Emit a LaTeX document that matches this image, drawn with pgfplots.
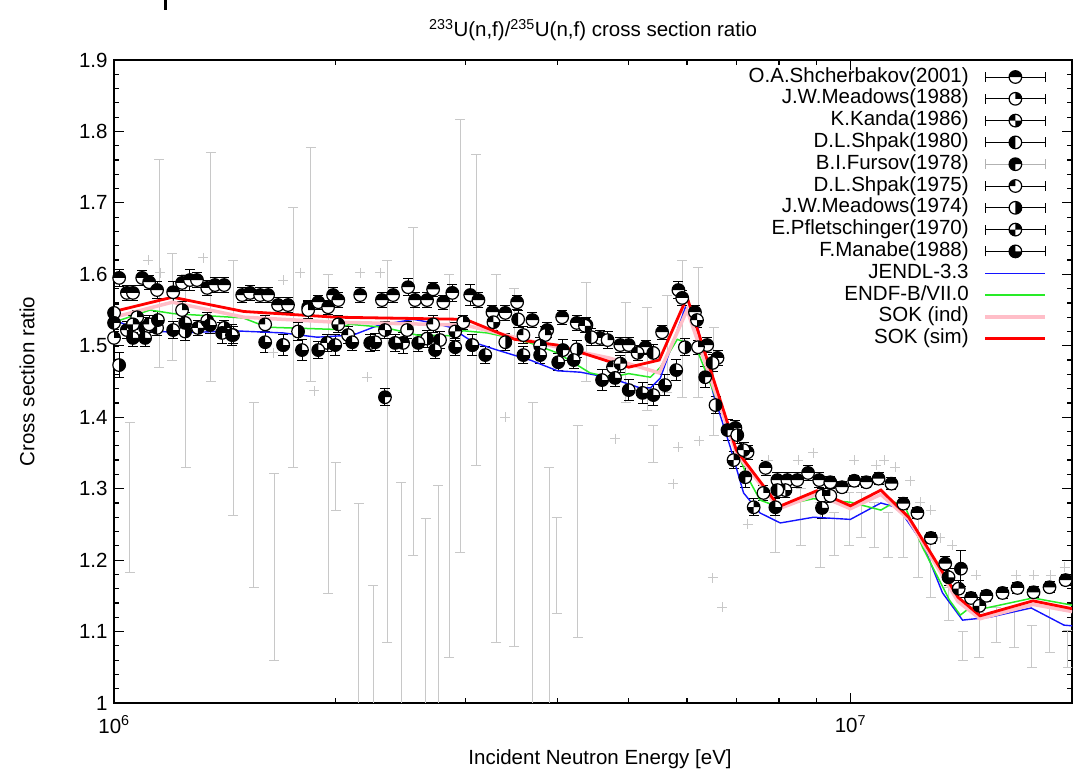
\documentclass[border=0pt]{standalone}
\usepackage{fontspec}
\setmainfont{Liberation Sans}
\usepackage{pgfplots}
\pgfplotsset{compat=1.18}

% circle markers with black sectors (gnuplot-like partially filled circles)
\newcommand\mksector[2]{%
  \pgfpathmoveto{\pgfpointorigin}%
  \pgfpathlineto{\pgfpointpolar{#1}{\pgfplotmarksize}}%
  \pgfpatharc{#1}{#2}{\pgfplotmarksize}%
  \pgfpathclose}
\newcommand\mkdisc[1]{%
  \pgfpathcircle{\pgfpointorigin}{\pgfplotmarksize}%
  \pgfsetfillcolor{white}\pgfusepathqfill
  #1\pgfsetfillcolor{black}\pgfusepathqfill
  \pgfpathcircle{\pgfpointorigin}{\pgfplotmarksize}%
  \pgfusepathqstroke}
\pgfdeclareplotmark{half-top}{\mkdisc{\mksector{0}{180}}}
\pgfdeclareplotmark{quarter-tr}{\mkdisc{\mksector{0}{90}}}
\pgfdeclareplotmark{checker-a}{\mkdisc{\mksector{90}{180}\mksector{270}{360}}}
\pgfdeclareplotmark{half-left}{\mkdisc{\mksector{90}{270}}}
\pgfdeclareplotmark{three-a}{\mkdisc{\mksector{0}{270}}}
\pgfdeclareplotmark{quarter-tl}{\mkdisc{\mksector{90}{180}}}
\pgfdeclareplotmark{half-right}{\mkdisc{\mksector{-90}{90}}}
\pgfdeclareplotmark{checker-b}{\mkdisc{\mksector{0}{90}\mksector{180}{270}}}
\pgfdeclareplotmark{three-b}{\mkdisc{\mksector{90}{360}}}

\definecolor{sokind}{RGB}{255,190,200}
\definecolor{endfgreen}{RGB}{40,235,40}
\definecolor{jendlblue}{RGB}{20,20,255}
\definecolor{exgray}{RGB}{200,200,200}

\pgfplotsset{
  explegend/.style={legend image code/.code={%
    \draw[#1, line width=1pt] (0pt,0pt) -- (60pt,0pt) (0pt,-5pt) -- (0pt,5pt) (60pt,-5pt) -- (60pt,5pt);
    \draw[##1] plot coordinates {(30pt,0pt)};}},
  lineleg/.style={legend image code/.code={\draw[##1] (0pt,0pt) -- (60pt,0pt);}},
  exp/.style 2 args={only marks, mark=#1, black, mark size=6.3pt,
    mark options={line width=1.2pt}, explegend=#2,
    error bars/.cd, y dir=both, y explicit,
    error bar style={line width=1pt, black},
    error mark options={rotate=90, mark size=5pt, line width=1pt, black}},
}

\begin{document}
\begin{tikzpicture}[font=\fontsize{20.5}{24}\selectfont]
\useasboundingbox (0,0) rectangle (1077pt,771pt);
\fill (163.5pt,771pt) rectangle (166.5pt,761pt);
\begin{axis}[
  at={(114pt,68pt)}, anchor=south west, scale only axis,
  width=958pt, height=643pt,
  xmode=log, xmin=1e6, xmax=2e7, ymin=1, ymax=1.9,
  xtick={1e6,1e7}, xticklabels={10\textsuperscript{6},10\textsuperscript{7}},
  minor xtick={2e6,3e6,4e6,5e6,6e6,7e6,8e6,9e6,2e7},
  ytick={1,1.1,1.2,1.3,1.4,1.5,1.6,1.7,1.8,1.9}, minor y tick num=4,
  yticklabel style={/pgf/number format/fixed, /pgf/number format/assume math mode=true},
  major tick length=10pt, minor tick length=5pt,
  every tick/.style={black, line width=1.2pt},
  axis line style={line width=1.4pt},
  xticklabel style={yshift=-9pt},
  yticklabel style={xshift=-3pt},
  title={\textsuperscript{233}U(n,f)/\textsuperscript{235}U(n,f) cross section ratio},
  every axis title/.style={at={(axis description cs:0.5,1)}, anchor=center, yshift=30pt},
  xlabel={Incident Neutron Energy [eV]},
  every axis x label/.style={at={(axis description cs:0.5073,-0.087)}, anchor=center},
  ylabel={Cross section ratio},
  every axis y label/.style={at={(axis description cs:-0.0908,0.5)}, rotate=90, anchor=center},
  legend plot pos=right,
  legend cell align=right,
  legend style={draw=none, fill=none, at={(axis description cs:0.9740,0.9891)}, anchor=north east,
    inner sep=0pt, outer sep=0pt, row sep=1.8pt, column sep=15pt,
    nodes={inner sep=0pt, text height=15pt, text depth=5pt}},
]

% ---- grey data set: error bars only
\addplot[only marks, mark=*, mark size=0pt, mark options={draw=none, fill=none}, exgray, forget plot,
  error bars/.cd, y dir=both, y explicit,
  error bar style={line width=1pt, exgray},
  error mark options={rotate=90, mark size=5pt, line width=1pt, exgray}]
  table[x=x, y=y, y error=e] {
x y e
1.051e6 1.2875 0.1045
1.151e6 1.6155 0.1455
1.199e6 1.5545 0.0745
1.252e6 1.465 0.135
1.354e6 1.6105 0.1605
1.451e6 1.4415 0.1785
1.549e6 1.2915 0.1295
1.650e6 1.190 0.131
1.751e6 1.512 0.182
1.851e6 1.614 0.164
1.953e6 1.3765 0.2235
2.001e6 1.3035 0.0335
2.151e6 1.0895 0.1895
2.249e6 0.9825 0.1825
2.350e6 1.352 0.268
2.455e6 1.1045 0.2045
2.550e6 1.436 0.230
2.652e6 1.079 0.179
2.755e6 1.102 0.202
2.852e6 1.332 0.268
2.953e6 1.514 0.303
3.104e6 1.550 0.218
3.305e6 1.342 0.258
3.496e6 1.3295 0.2505
3.705e6 1.160 0.260
3.903e6 1.115 0.215
3.992e6 1.192 0.067
4.26e6 1.240 0.149
4.38e6 1.5195 0.0695
4.95e6 1.490 0.070
5.30e6 1.482 0.072
5.40e6 1.3625 0.0265
5.64e6 1.5025 0.0685
5.91e6 1.524 0.096
6.21e6 1.519 0.091
6.52e6 1.4505 0.0755
7.91e6 1.255 0.045
8.56e6 1.260 0.040
9.10e6 1.235 0.045
9.51e6 1.237 0.030
9.97e6 1.2575 0.0365
10.35e6 1.2625 0.0315
10.78e6 1.249 0.031
11.25e6 1.235 0.031
11.80e6 1.2435 0.0405
12.37e6 1.223 0.047
12.86e6 1.188 0.040
13.59e6 1.139 0.023
14.20e6 1.080 0.020
14.97e6 1.0945 0.0315
15.79e6 1.109 0.025
16.70e6 1.1035 0.0265
17.62e6 1.079 0.030
18.64e6 1.102 0.032
19.72e6 1.0755 0.0265
};
% ---- grey data set: points
\addplot[only marks, mark=+, mark size=5pt, exgray, mark options={line width=1pt}, forget plot]
  table {
1.112e6 1.620
1.155e6 1.602
1.321e6 1.623
1.645e6 1.490
1.697e6 1.592
1.789e6 1.602
1.869e6 1.437
2.159e6 1.602
2.207e6 1.456
2.298e6 1.602
3.399e6 1.400
4.79e6 1.370
5.75e6 1.307
5.84e6 1.358
6.23e6 1.367
6.50e6 1.175
6.70e6 1.134
7.25e6 1.250
7.74e6 1.340
8.50e6 1.340
8.90e6 1.350
10.12e6 1.340
10.84e6 1.333
11.12e6 1.340
11.51e6 1.330
12.06e6 1.311
12.44e6 1.281
12.86e6 1.270
13.25e6 1.231
13.76e6 1.221
14.83e6 1.179
16.79e6 1.179
17.73e6 1.179
18.70e6 1.179
19.54e6 1.190
};

% ---- measurements
\addplot[exp={half-top}{black}] table[x=x, y=y, y error=e] {
x y e
1.016e6 1.595 0.012
1.041e6 1.574 0.010
1.061e6 1.574 0.010
1.092e6 1.595 0.010
1.116e6 1.589 0.010
1.144e6 1.578 0.012
1.203e6 1.575 0.015
1.237e6 1.588 0.010
1.268e6 1.592 0.015
1.296e6 1.592 0.010
1.338e6 1.581 0.010
1.371e6 1.585 0.010
1.411e6 1.585 0.010
1.493e6 1.571 0.010
1.530e6 1.574 0.010
1.579e6 1.571 0.010
1.619e6 1.571 0.010
1.670e6 1.557 0.010
1.723e6 1.557 0.010
1.835e6 1.554 0.010
1.894e6 1.561 0.010
1.953e6 1.554 0.010
1.984e6 1.571 0.010
2.016e6 1.564 0.010
2.159e6 1.571 0.010
2.311e6 1.564 0.010
2.393e6 1.571 0.010
2.508e6 1.582 0.012
2.563e6 1.564 0.010
2.661e6 1.564 0.010
2.712e6 1.579 0.010
2.800e6 1.561 0.010
2.880e6 1.574 0.012
3.046e6 1.571 0.015
3.125e6 1.564 0.010
3.265e6 1.547 0.010
3.399e6 1.546 0.010
3.527e6 1.561 0.010
3.700e6 1.536 0.010
3.875e6 1.522 0.010
4.06e6 1.540 0.010
4.25e6 1.532 0.010
4.38e6 1.529 0.010
4.57e6 1.511 0.010
4.87e6 1.501 0.010
5.00e6 1.501 0.010
5.27e6 1.498 0.010
5.55e6 1.519 0.010
5.84e6 1.578 0.012
5.91e6 1.567 0.010
6.15e6 1.547 0.010
6.39e6 1.501 0.010
6.60e6 1.483 0.010
6.98e6 1.385 0.010
7.25e6 1.351 0.010
7.67e6 1.329 0.010
7.96e6 1.312 0.010
8.21e6 1.312 0.010
8.47e6 1.312 0.010
8.76e6 1.322 0.010
9.07e6 1.312 0.010
9.39e6 1.309 0.008
9.74e6 1.302 0.008
10.12e6 1.311 0.008
10.51e6 1.309 0.008
10.92e6 1.314 0.008
11.37e6 1.307 0.008
11.80e6 1.279 0.008
12.33e6 1.266 0.008
12.86e6 1.231 0.008
13.45e6 1.195 0.010
14.58e6 1.147 0.008
15.30e6 1.150 0.008
16.09e6 1.154 0.008
16.86e6 1.161 0.008
17.73e6 1.155 0.008
18.64e6 1.162 0.008
19.60e6 1.172 0.008
};
\addlegendentry{O.A.Shcherbakov(2001)}

\addplot[exp={quarter-tr}{black}] table[x=x, y=y, y error=e] {
x y e
1.000e6 1.511 0.012
1.075e6 1.540 0.010
1.237e6 1.550 0.012
1.411e6 1.525 0.010
1.835e6 1.550 0.012
2.500e6 1.522 0.012
2.980e6 1.533 0.010
3.850e6 1.515 0.012
4.68e6 1.508 0.012
6.21e6 1.498 0.010
7.62e6 1.294 0.010
9.15e6 1.290 0.010
};
\addlegendentry{J.W.Meadows(1988)}

\addplot[exp={checker-a}{black}] table[x=x, y=y, y error=e] {
x y e
1.041e6 1.522 0.012
1.300e6 1.525 0.010
1.947e6 1.504 0.012
2.333e6 1.522 0.012
3.275e6 1.533 0.012
4.36e6 1.528 0.010
5.14e6 1.490 0.010
6.19e6 1.536 0.010
7.16e6 1.354 0.010
8.16e6 1.298 0.010
};
\addlegendentry{K.Kanda(1986)}

\addplot[exp={half-left}{black}] table[x=x, y=y, y error=e] {
x y e
1.000e6 1.546 0.012
1.144e6 1.525 0.010
1.451e6 1.515 0.012
2.228e6 1.504 0.012
2.771e6 1.508 0.012
3.538e6 1.537 0.012
4.45e6 1.512 0.012
5.40e6 1.490 0.012
6.50e6 1.476 0.012
7.96e6 1.298 0.010
};
\addlegendentry{D.L.Shpak(1980)}

\addplot[exp={three-a}{gray!60}] table[x=x, y=y, y error=e] {
x y e
1.000e6 1.532 0.015
1.102e6 1.525 0.015
1.402e6 1.518 0.015
1.697e6 1.501 0.015
2.333e6 1.428 0.012
2.469e6 1.504 0.015
3.066e6 1.501 0.015
4.07e6 1.494 0.015
6.35e6 1.456 0.015
6.81e6 1.382 0.015
7.20e6 1.316 0.015
14.13e6 1.188 0.025
};
\addlegendentry{B.I.Fursov(1978)}

\addplot[exp={quarter-tl}{black}] table[x=x, y=y, y error=e] {
x y e
1.116e6 1.530 0.012
1.604e6 1.530 0.012
2.079e6 1.515 0.012
2.712e6 1.530 0.012
3.597e6 1.515 0.012
4.76e6 1.470 0.012
9.39e6 1.290 0.010
};
\addlegendentry{D.L.Shpak(1975)}

\addplot[exp={half-right}{black}] table[x=x, y=y, y error=e] {
x y e
1.016e6 1.473 0.018
1.249e6 1.520 0.012
1.778e6 1.520 0.012
2.661e6 1.510 0.012
3.399e6 1.505 0.012
4.25e6 1.495 0.012
5.96e6 1.498 0.012
6.56e6 1.417 0.012
7.02e6 1.375 0.012
};
\addlegendentry{J.W.Meadows(1974)}

\addplot[exp={checker-b}{black}] table[x=x, y=y, y error=e] {
x y e
1.061e6 1.530 0.012
1.338e6 1.535 0.012
2.016e6 1.530 0.012
2.906e6 1.520 0.012
3.79e6 1.500 0.012
4.87e6 1.475 0.012
6.94e6 1.340 0.012
7.39e6 1.274 0.012
14.03e6 1.160 0.012
14.97e6 1.136 0.012
};
\addlegendentry{E.Pfletschinger(1970)}

\addplot[exp={three-b}{black}] table[x=x, y=y, y error=e] {
x y e
1.061e6 1.511 0.012
1.102e6 1.511 0.012
1.147e6 1.536 0.012
1.203e6 1.522 0.012
1.249e6 1.532 0.015
1.350e6 1.529 0.012
1.446e6 1.515 0.015
1.604e6 1.505 0.015
1.697e6 1.501 0.015
1.800e6 1.494 0.015
1.894e6 1.494 0.012
1.997e6 1.501 0.015
2.106e6 1.505 0.012
2.263e6 1.505 0.012
2.408e6 1.504 0.012
2.589e6 1.504 0.012
2.729e6 1.494 0.012
2.906e6 1.498 0.012
3.066e6 1.501 0.015
3.193e6 1.487 0.012
3.597e6 1.487 0.012
3.790e6 1.487 0.012
4.01e6 1.477 0.012
4.21e6 1.480 0.012
4.60e6 1.452 0.015
4.79e6 1.455 0.012
5.00e6 1.438 0.015
5.22e6 1.434 0.015
5.40e6 1.431 0.015
5.60e6 1.445 0.015
5.80e6 1.466 0.015
7.91e6 1.274 0.012
9.15e6 1.273 0.015
13.59e6 1.176 0.012
};
\addlegendentry{F.Manabe(1988)}

% ---- evaluations
\addplot[jendlblue, line width=1.4pt, lineleg] table {
1.000e6 1.536
1.041e6 1.529
1.119e6 1.521
1.241e6 1.518
1.451e6 1.521
1.697e6 1.518
1.887e6 1.512
2.112e6 1.515
2.277e6 1.528
2.393e6 1.532
2.548e6 1.537
2.713e6 1.532
2.860e6 1.526
3.075e6 1.505
3.314e6 1.494
3.674e6 1.480
4.000e6 1.465
4.300e6 1.463
4.720e6 1.455
5.180e6 1.441
5.350e6 1.441
5.520e6 1.455
5.740e6 1.504
5.970e6 1.554
6.160e6 1.540
6.510e6 1.434
6.870e6 1.358
7.160e6 1.294
7.540e6 1.266
8.030e6 1.252
8.910e6 1.260
10.00e6 1.257
11.00e6 1.280
11.62e6 1.273
12.53e6 1.224
13.34e6 1.154
14.20e6 1.116
15.45e6 1.120
17.60e6 1.133
19.50e6 1.109
20.00e6 1.108
};
\addlegendentry{JENDL-3.3}

\addplot[endfgreen, line width=1.5pt, lineleg] table {
1.000e6 1.533
1.119e6 1.550
1.203e6 1.545
1.497e6 1.539
1.614e6 1.526
1.984e6 1.523
2.093e6 1.530
2.321e6 1.526
2.580e6 1.515
2.860e6 1.514
2.980e6 1.521
3.212e6 1.518
3.420e6 1.512
3.674e6 1.504
4.000e6 1.490
4.210e6 1.476
4.430e6 1.462
4.720e6 1.456
5.000e6 1.461
5.350e6 1.456
5.520e6 1.470
5.820e6 1.509
6.000e6 1.504
6.210e6 1.491
6.810e6 1.386
7.250e6 1.316
7.540e6 1.284
7.960e6 1.275
8.910e6 1.286
10.00e6 1.281
11.00e6 1.270
11.48e6 1.281
11.87e6 1.274
12.53e6 1.218
13.63e6 1.144
14.10e6 1.123
14.51e6 1.133
15.30e6 1.133
17.70e6 1.147
20.00e6 1.137
};
\addlegendentry{ENDF-B/VII.0}

\addplot[sokind, line width=3.5pt, lineleg] table {
1.0e6 1.540
1.2e6 1.561
1.5e6 1.540
2.0e6 1.533
3.0e6 1.529
3.5e6 1.512
4.0e6 1.498
4.7e6 1.483
5.5e6 1.462
6.0e6 1.550
7.0e6 1.350
8.0e6 1.272
9.0e6 1.292
10e6 1.272
11e6 1.292
12e6 1.257
14e6 1.142
15e6 1.118
17.7e6 1.138
20e6 1.128
};
\addlegendentry{SOK (ind)}

\addplot[red, line width=2.8pt, lineleg] table {
1.0e6 1.548
1.2e6 1.568
1.5e6 1.548
2.0e6 1.540
3.0e6 1.537
3.5e6 1.509
4.0e6 1.501
4.7e6 1.478
5.0e6 1.470
5.5e6 1.480
6.0e6 1.568
7.0e6 1.354
8.0e6 1.275
9.0e6 1.297
10e6 1.276
11e6 1.298
12e6 1.260
14e6 1.148
15e6 1.122
17.7e6 1.143
20e6 1.132
};
\addlegendentry{SOK (sim)}
\end{axis}
\end{tikzpicture}
\end{document}
